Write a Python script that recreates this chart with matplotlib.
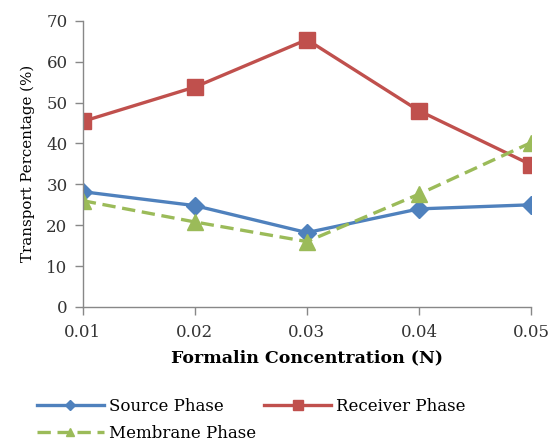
import matplotlib
matplotlib.use("Agg")
import matplotlib.pyplot as plt

concentrations = ["0.01", "0.02", "0.03", "0.04", "0.05"]
source = [28.2, 24.8, 18.2, 24.0, 25.0]
receiver = [45.4, 53.8, 65.4, 48.0, 34.8]
membrane = [26.0, 20.8, 16.0, 27.6, 40.2]

plt.rcParams['font.family'] = ['DejaVu Serif']

fig = plt.figure(figsize=(5.52, 4.43), dpi=100)
ax = fig.add_axes([0.150, 0.307, 0.812, 0.646])

x = list(range(len(concentrations)))
l1, = ax.plot(x, source, color='#4F81BD', lw=2.4, marker='D', markersize=9, label='Source Phase')
l2, = ax.plot(x, receiver, color='#C0504D', lw=2.4, marker='s', markersize=12, label='Receiver Phase')
l3, = ax.plot(x, membrane, color='#9BBB59', lw=2.4, ls=(0, (4, 2)), marker='^', markersize=11, label='Membrane Phase')

ax.set_xlim(0, 4)
ax.set_ylim(0, 70)
ax.set_yticks(range(0, 71, 10))
ax.set_xticks(x)
ax.set_xticklabels(concentrations)
for s in ['top', 'right']:
    ax.spines[s].set_visible(False)
for s in ['left', 'bottom']:
    ax.spines[s].set_color('#888888')
    ax.spines[s].set_linewidth(1.0)
ax.tick_params(axis='both', colors='#888888', labelcolor='#333333', labelsize=12, length=6, width=1)
ax.tick_params(axis='x', pad=6)
ax.tick_params(axis='y', pad=5)
for t in ax.get_yticklabels() + ax.get_xticklabels():
    t.set_clip_on(False)

ax.set_ylabel('Transport Percentage (%)', fontsize=10.8, labelpad=8)
ax.set_xlabel('Formalin Concentration (N)', fontsize=12.5, fontweight='bold', labelpad=6)

leg = fig.legend([l1, l3, l2], ['Source Phase', 'Membrane Phase', 'Receiver Phase'],
                 loc='upper left', bbox_to_anchor=(0.04, 0.135), ncol=2, frameon=False,
                 fontsize=12, handlelength=4.0, columnspacing=0.5, labelspacing=0.6,
                 handletextpad=0.3, markerscale=0.55)

fig.savefig('out.png', dpi=100)
